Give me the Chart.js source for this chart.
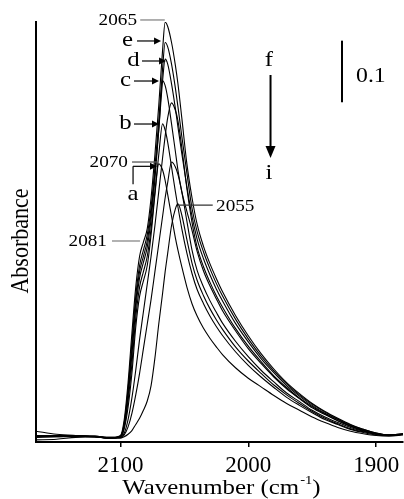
<!DOCTYPE html>
<html>
<head>
<meta charset="utf-8">
<script src="https://cdn.jsdelivr.net/npm/chart.js@4.4.0/dist/chart.umd.min.js"></script>
<style>
  html, body { margin: 0; padding: 0; background: #fff; }
  #wrap { width: 404px; height: 499px; }
</style>
</head>
<body>
<div id="wrap"><canvas id="chart"></canvas></div>
<script>
// wavenumber grid (cm-1), shared by all spectra
const wavenumbers = [2166, 2150, 2135, 2120, 2108, 2100, 2097, 2094, 2091, 2088, 2085, 2082, 2079, 2076, 2073, 2070, 2067, 2065, 2063, 2060, 2057, 2055, 2052, 2048, 2044, 2040, 2035, 2030, 2025, 2020, 2010, 2000, 1990, 1980, 1970, 1960, 1950, 1940, 1930, 1920, 1910, 1900, 1890, 1879];

// absorbance, one array per spectrum
const specA = [0.011, 0.006, 0.004, 0.003, 0.001, 0.002, 0.015, 0.05, 0.105, 0.18, 0.23, 0.255, 0.28, 0.33, 0.395, 0.445, 0.435, 0.418, 0.395, 0.36, 0.325, 0.305, 0.278, 0.245, 0.218, 0.198, 0.178, 0.162, 0.148, 0.135, 0.114, 0.097, 0.083, 0.069, 0.056, 0.045, 0.034, 0.025, 0.017, 0.011, 0.007, 0.004, 0.003, 0.005];
const specB = [0.004, 0.004, 0.004, 0.003, 0.001, 0.002, 0.018, 0.06, 0.12, 0.195, 0.245, 0.27, 0.295, 0.34, 0.40, 0.46, 0.51, 0.50, 0.48, 0.44, 0.40, 0.375, 0.34, 0.30, 0.267, 0.241, 0.218, 0.198, 0.181, 0.166, 0.140, 0.118, 0.099, 0.082, 0.066, 0.053, 0.041, 0.030, 0.022, 0.014, 0.009, 0.005, 0.004, 0.006];
const specC = [0.003, 0.004, 0.003, 0.002, 0.000, 0.002, 0.02, 0.068, 0.135, 0.21, 0.26, 0.285, 0.31, 0.355, 0.42, 0.50, 0.58, 0.572, 0.552, 0.51, 0.465, 0.435, 0.40, 0.368, 0.337, 0.303, 0.271, 0.247, 0.226, 0.206, 0.174, 0.145, 0.121, 0.099, 0.080, 0.064, 0.049, 0.038, 0.028, 0.019, 0.012, 0.007, 0.004, 0.006];
const specD = [0.002, 0.003, 0.003, 0.002, 0.000, 0.003, 0.022, 0.075, 0.145, 0.22, 0.27, 0.295, 0.32, 0.365, 0.43, 0.50, 0.58, 0.615, 0.607, 0.575, 0.535, 0.505, 0.462, 0.408, 0.360, 0.323, 0.291, 0.265, 0.242, 0.222, 0.186, 0.156, 0.129, 0.106, 0.085, 0.068, 0.053, 0.040, 0.030, 0.020, 0.013, 0.007, 0.005, 0.007];
const specE = [0.001, 0.002, 0.003, 0.002, 0.000, 0.003, 0.025, 0.08, 0.155, 0.23, 0.28, 0.305, 0.33, 0.375, 0.44, 0.515, 0.60, 0.642, 0.635, 0.607, 0.568, 0.538, 0.49, 0.43, 0.373, 0.335, 0.302, 0.275, 0.251, 0.230, 0.193, 0.161, 0.133, 0.109, 0.088, 0.070, 0.055, 0.042, 0.031, 0.021, 0.014, 0.008, 0.005, 0.007];
const specF = [-0.003, -0.002, 0.001, 0.002, 0.000, 0.004, 0.03, 0.09, 0.17, 0.245, 0.295, 0.318, 0.34, 0.39, 0.46, 0.54, 0.63, 0.675, 0.668, 0.642, 0.605, 0.575, 0.52, 0.445, 0.39, 0.347, 0.311, 0.283, 0.259, 0.237, 0.199, 0.166, 0.137, 0.112, 0.090, 0.072, 0.056, 0.043, 0.032, 0.022, 0.014, 0.008, 0.005, 0.007];
const specG = [0.003, 0.003, 0.003, 0.002, 0.000, 0.001, 0.008, 0.03, 0.065, 0.11, 0.16, 0.205, 0.25, 0.295, 0.345, 0.40, 0.455, 0.49, 0.52, 0.544, 0.532, 0.515, 0.472, 0.405, 0.350, 0.310, 0.278, 0.253, 0.231, 0.212, 0.178, 0.149, 0.124, 0.101, 0.082, 0.065, 0.051, 0.039, 0.028, 0.019, 0.012, 0.007, 0.004, 0.006];
const specH = [0.003, 0.003, 0.003, 0.002, 0.000, 0.000, 0.005, 0.018, 0.04, 0.07, 0.105, 0.145, 0.185, 0.225, 0.27, 0.315, 0.36, 0.39, 0.415, 0.448, 0.44, 0.428, 0.40, 0.352, 0.305, 0.272, 0.245, 0.223, 0.204, 0.186, 0.157, 0.132, 0.110, 0.091, 0.073, 0.059, 0.045, 0.034, 0.025, 0.017, 0.011, 0.006, 0.004, 0.006];
const specI = [0.002, 0.002, 0.002, 0.002, 0.000, 0.000, 0.002, 0.006, 0.012, 0.022, 0.032, 0.045, 0.06, 0.085, 0.13, 0.185, 0.235, 0.27, 0.30, 0.345, 0.372, 0.38, 0.362, 0.322, 0.284, 0.256, 0.231, 0.210, 0.192, 0.176, 0.148, 0.125, 0.105, 0.086, 0.070, 0.056, 0.043, 0.032, 0.023, 0.015, 0.010, 0.006, 0.004, 0.006];

const spectrumNames = ['a', 'b', 'c', 'd', 'e', 'f', 'g', 'h', 'i'];
const spectra = [specA, specB, specC, specD, specE, specF, specG, specH, specI];

const xTicks = [2100, 2000, 1900];

// labelled arrows: [label, text wn, arrow start wn, arrow tip wn, absorbance]
const letterArrows = [
  ['e', 2094.4, 2087.0, 2068.2, 0.6445],
  ['d', 2089.8, 2083.1, 2064.3, 0.612],
  ['c', 2096.0, 2089.4, 2069.8, 0.5795],
  ['b', 2096.0, 2089.4, 2069.8, 0.5097]
];
// band positions: [text, text wn, align, line start wn, line end wn, absorbance, colour]
const bandNotes = [
  ['2065', 2087.0, 'right', 2084.5, 2065.3, 0.6786, '#888'],
  ['2070', 2094.1, 'right', 2090.9, 2071.4, 0.448, '#555'],
  ['2081', 2110.5, 'right', 2106.6, 2084.7, 0.3198, '#888'],
  ['2055', 2025.2, 'left', 2055.0, 2027.8, 0.378, '#333']
];

const SERIF = '"Liberation Serif", "Times New Roman", serif';
const STRETCH = 1.13;

function wideText(ctx, text, px, py, size, align) {
  ctx.save();
  ctx.font = size + 'px ' + SERIF;
  ctx.textBaseline = 'middle';
  ctx.textAlign = align;
  ctx.fillStyle = '#000';
  ctx.translate(px, py);
  ctx.scale(STRETCH, 1);
  ctx.fillText(text, 0, 0);
  ctx.restore();
}

function arrowRight(ctx, x0, x1, py) {
  ctx.beginPath();
  ctx.moveTo(x0, py);
  ctx.lineTo(x1 - 5, py);
  ctx.stroke();
  ctx.beginPath();
  ctx.moveTo(x1, py);
  ctx.lineTo(x1 - 7, py - 3.5);
  ctx.lineTo(x1 - 7, py + 3.5);
  ctx.closePath();
  ctx.fill();
}

const notesPlugin = {
  id: 'spectrumNotes',
  afterDraw(chart) {
    const { ctx, chartArea } = chart;
    const xs = chart.scales.x, ys = chart.scales.y;
    const X = v => xs.getPixelForValue(v);
    const Y = v => ys.getPixelForValue(v);
    ctx.save();
    ctx.fillStyle = '#000';
    ctx.strokeStyle = '#000';
    ctx.lineWidth = 1.2;

    letterArrows.forEach(([t, tw, w0, w1, a]) => {
      wideText(ctx, t, X(tw), Y(a) - 1, 22, 'center');
      arrowRight(ctx, X(w0), X(w1), Y(a));
    });

    // "a" with its bent pointer
    const aX = X(2090.1);
    wideText(ctx, 'a', aX, Y(0.396), 22, 'center');
    ctx.beginPath();
    ctx.moveTo(aX, Y(0.412));
    ctx.lineTo(aX, Y(0.441));
    ctx.stroke();
    arrowRight(ctx, aX, X(2071.4), Y(0.441));

    bandNotes.forEach(([t, tw, align, w0, w1, a, col]) => {
      wideText(ctx, t, X(tw), Y(a) + 1, 17, align);
      ctx.save();
      ctx.strokeStyle = col;
      ctx.lineWidth = 1.3;
      ctx.beginPath();
      ctx.moveTo(X(w0), Y(a));
      ctx.lineTo(X(w1), Y(a));
      ctx.stroke();
      ctx.restore();
    });

    // f -> i trend arrow
    const fx = X(1982.6);
    wideText(ctx, 'f', X(1983.8), Y(0.6136), 22, 'center');
    wideText(ctx, 'i', X(1983.8), Y(0.430), 22, 'center');
    ctx.lineWidth = 2;
    ctx.beginPath();
    ctx.moveTo(fx, Y(0.5893));
    ctx.lineTo(fx, Y(0.4545) - 8);
    ctx.stroke();
    ctx.beginPath();
    ctx.moveTo(fx, Y(0.4545));
    ctx.lineTo(fx - 5, Y(0.4545) - 12);
    ctx.lineTo(fx + 5, Y(0.4545) - 12);
    ctx.closePath();
    ctx.fill();

    // 0.1 absorbance scale bar
    ctx.lineWidth = 2;
    ctx.beginPath();
    ctx.moveTo(X(1926.7), Y(0.545));
    ctx.lineTo(X(1926.7), Y(0.645));
    ctx.stroke();
    wideText(ctx, '0.1', X(1915.7), Y(0.5865), 21, 'left');

    // axis titles
    const cx = (chartArea.left + chartArea.right) / 2 + 1.5;
    const ty = 488;
    ctx.font = '22px ' + SERIF;
    const w1 = ctx.measureText('Wavenumber (cm').width * STRETCH;
    ctx.font = '13px ' + SERIF;
    const w2 = ctx.measureText('-1').width * STRETCH;
    ctx.font = '22px ' + SERIF;
    const w3 = ctx.measureText(')').width * STRETCH;
    let sx = cx - (w1 + w2 + w3) / 2;
    wideText(ctx, 'Wavenumber (cm', sx, ty, 22, 'left');
    wideText(ctx, '-1', sx + w1 + 1, ty - 7, 13, 'left');
    wideText(ctx, ')', sx + w1 + w2 + 1, ty, 22, 'left');

    ctx.save();
    ctx.translate(21, 241);
    ctx.rotate(-Math.PI / 2);
    ctx.scale(1, STRETCH);
    ctx.font = '22px ' + SERIF;
    ctx.textAlign = 'center';
    ctx.textBaseline = 'middle';
    ctx.fillText('Absorbance', 0, 0);
    ctx.restore();

    ctx.restore();
  }
};

const datasets = spectra.map((vals, k) => ({
  label: spectrumNames[k],
  data: wavenumbers.map((w, j) => ({ x: w, y: vals[j] })),
  borderColor: '#000',
  borderWidth: 1.1,
  pointRadius: 0,
  fill: false,
  cubicInterpolationMode: 'monotone'
}));

new Chart(document.getElementById('chart'), {
  type: 'line',
  data: { datasets },
  options: {
    responsive: true,
    maintainAspectRatio: false,
    animation: false,
    layout: { padding: { top: 22, right: 1, left: 0, bottom: 0 } },
    plugins: { legend: { display: false }, tooltip: { enabled: false } },
    scales: {
      x: {
        type: 'linear',
        reverse: true,
        min: 1879,
        max: 2166,
        afterBuildTicks: s => { s.ticks = xTicks.map(v => ({ value: v })); },
        afterFit: s => { s.height = 57; },
        grid: { drawOnChartArea: false, drawTicks: true, tickLength: 5, color: '#000', lineWidth: 1.5 },
        border: { display: true, color: '#000', width: 2 },
        ticks: {
          color: '#000',
          font: { family: SERIF, size: 23, lineHeight: 1.48 },
          padding: 2,
          maxRotation: 0,
          autoSkip: false,
          callback: v => String(v)
        }
      },
      y: {
        min: -0.0065,
        max: 0.6753,
        afterFit: s => { s.width = 36; },
        grid: { display: false },
        border: { display: true, color: '#000', width: 2 },
        ticks: { display: false }
      }
    }
  },
  plugins: [notesPlugin]
});
</script>
</body>
</html>
